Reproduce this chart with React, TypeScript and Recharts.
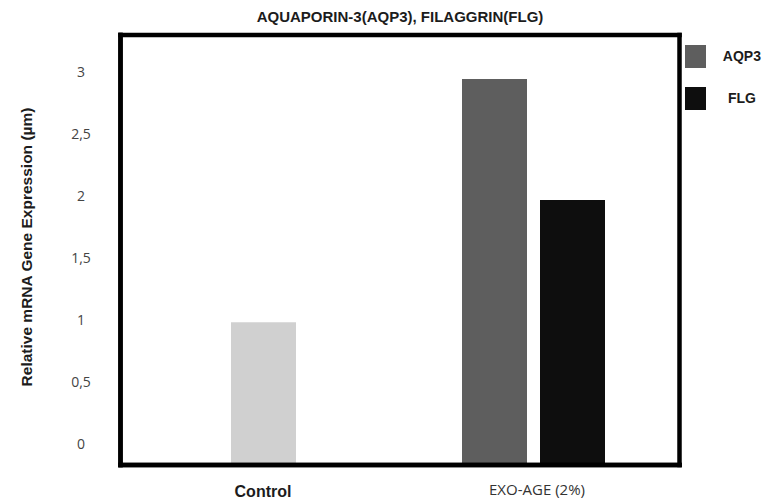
import React from 'react';
import { BarChart, Bar, XAxis, YAxis, Legend, CartesianGrid } from 'recharts';

const title = 'AQUAPORIN-3(AQP3), FILAGGRIN(FLG)';
const yAxisTitle = 'Relative mRNA Gene Expression (µm)';
const categories = ['Control', 'EXO-AGE (2%)'];
const controlValues: (number | null)[] = [0.98, null];
const aqp3Values: (number | null)[] = [null, 2.94];
const flgValues: (number | null)[] = [null, 1.965];
const yTicks = [0, 0.5, 1, 1.5, 2, 2.5, 3];
const yDomain: [number, number] = [-0.169, 3.294];

const seriesNames = { control: 'Control', aqp3: 'AQP3', flg: 'FLG' };
const seriesColors = { control: '#d0d0d0', aqp3: '#5e5e5e', flg: '#0e0e0e' };

// bars in the reference rise from the bottom of the frame, so each bar is a range
const fromBottom = (v: number | null) => (v == null ? null : [yDomain[0], v]);
const data = categories.map((c, i) => ({
  category: c,
  control: fromBottom(controlValues[i]),
  aqp3: fromBottom(aqp3Values[i]),
  flg: fromBottom(flgValues[i]),
}));

const BORDER = { stroke: '#000', strokeWidth: 4.5, strokeLinecap: 'square' as const };
const BOLD_FONT = "'Liberation Sans', Arial, sans-serif";

const XTick = (props: any) => {
  const { x, y, payload, index } = props;
  if (index === 0) {
    return (
      <text x={x} y={y + 32} textAnchor="middle" fontFamily={BOLD_FONT} fontWeight="bold" fontSize={16} fill="#1c1c1c">
        {payload.value}
      </text>
    );
  }
  return (
    <text x={x + 4} y={y + 30} textAnchor="middle" fontFamily="'Open Sans', sans-serif" fontSize={15} fill="#333">
      {payload.value}
    </text>
  );
};

const YTick = (props: any) => {
  const { x, y, payload } = props;
  return (
    <text x={x} y={y} dy="0.36em" textAnchor="middle" fontFamily="'Open Sans', sans-serif" fontSize={14} fill="#444">
      {String(payload.value).replace('.', ',')}
    </text>
  );
};

const YLabel = (props: any) => {
  const { viewBox } = props;
  const x = viewBox.x + 32;
  const y = viewBox.y + viewBox.height / 2 - 3;
  return (
    <text x={x} y={y} transform={`rotate(-90, ${x}, ${y})`} textAnchor="middle" fontFamily={BOLD_FONT} fontWeight="bold" fontSize={15.5} fill="#1c1c1c">
      {yAxisTitle}
    </text>
  );
};

const LegendContent = (props: any) => {
  const items = (props.payload || []).filter((p: any) => p.type !== 'none');
  return (
    <div>
      {items.map((p: any) => (
        <div key={p.value} style={{ display: 'flex', alignItems: 'center', height: 23, marginBottom: 19 }}>
          <div style={{ width: 23, height: 23, background: p.color }} />
          <div style={{ width: 80, textAlign: 'center', fontFamily: BOLD_FONT, fontWeight: 'bold', fontSize: 14, color: '#1c1c1c', lineHeight: '23px' }}>
            {p.value}
          </div>
        </div>
      ))}
    </div>
  );
};

const xPadding = { left: 7.5, right: 11.5 };

export default function App() {
  return (
    <div style={{ position: 'absolute', left: 0, top: 0, width: 778, height: 499, background: '#fff' }}>
      <div
        style={{
          position: 'absolute',
          left: 0,
          top: 8,
          width: 800,
          textAlign: 'center',
          fontFamily: BOLD_FONT,
          fontWeight: 'bold',
          fontSize: 15,
          lineHeight: '17px',
          color: '#1c1c1c',
          zIndex: 2,
        }}
      >
        {title}
      </div>
      <BarChart width={778} height={499} data={data} margin={{ top: 35, right: 98.5, bottom: 0, left: 0 }} barGap={13}>
        <Bar xAxisId="ctrl" dataKey="control" name={seriesNames.control} fill={seriesColors.control} barSize={65} legendType="none" isAnimationActive={false} />
        <Bar xAxisId="main" dataKey="aqp3" name={seriesNames.aqp3} fill={seriesColors.aqp3} barSize={65} isAnimationActive={false} />
        <Bar xAxisId="main" dataKey="flg" name={seriesNames.flg} fill={seriesColors.flg} barSize={65} isAnimationActive={false} />
        <XAxis
          xAxisId="main"
          dataKey="category"
          height={34}
          padding={xPadding}
          tickLine={false}
          tickSize={0}
          tickMargin={0}
          axisLine={BORDER}
          tick={<XTick />}
          interval={0}
        />
        <XAxis xAxisId="ctrl" dataKey="category" hide height={0} padding={xPadding} />
        <YAxis
          width={120.5}
          type="number"
          domain={yDomain}
          ticks={yTicks}
          allowDataOverflow
          tickLine={false}
          tickSize={0}
          tickMargin={39.5}
          axisLine={BORDER}
          tick={<YTick />}
          interval={0}
          label={{ content: <YLabel /> }}
        />
        <CartesianGrid
          xAxisId="main"
          fill="none"
          {...BORDER}
          zIndex={1000}
          horizontalCoordinatesGenerator={(p: any) => [p.offset.top, p.offset.top + p.offset.height]}
          verticalCoordinatesGenerator={(p: any) => [p.offset.left, p.offset.left + p.offset.width]}
        />
        <Legend
          layout="horizontal"
          verticalAlign="middle"
          align="center"
          content={<LegendContent />}
          wrapperStyle={{ top: 45, left: 685, width: 93 }}
        />
      </BarChart>
    </div>
  );
}
